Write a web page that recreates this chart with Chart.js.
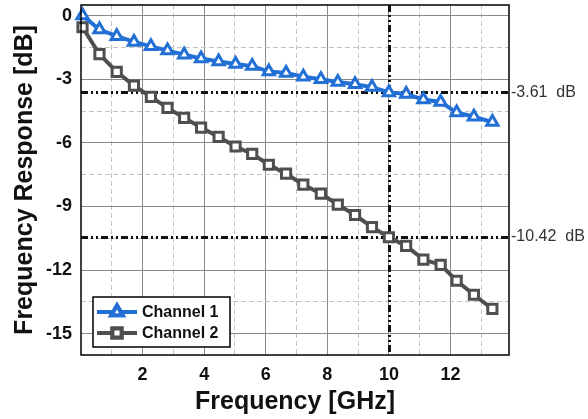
<!DOCTYPE html>
<html>
<head>
<meta charset="utf-8">
<script src="https://cdn.jsdelivr.net/npm/chart.js@4/dist/chart.umd.min.js"></script>
<style>
  html, body { margin: 0; padding: 0; background: #fff; }
  #wrap { width: 588px; height: 419px; }
</style>
</head>
<body>
<div id="wrap"><canvas id="resp" width="588" height="419"></canvas></div>
<script>
const freqGHz = [0.05, 0.6, 1.16, 1.72, 2.27, 2.81, 3.35, 3.9, 4.47, 5.02, 5.56, 6.1, 6.66,
                 7.22, 7.79, 8.34, 8.9, 9.45, 10.0, 10.56, 11.12, 11.68, 12.2, 12.76, 13.36];
const channel1 = [0, -0.66, -0.97, -1.24, -1.45, -1.65, -1.84, -2.02, -2.16, -2.28, -2.38, -2.64, -2.7,
                  -2.88, -3.0, -3.13, -3.24, -3.37, -3.62, -3.7, -3.96, -4.07, -4.57, -4.77, -5.02];
const channel2 = [-0.55, -1.82, -2.65, -3.3, -3.83, -4.35, -4.82, -5.28, -5.72, -6.17, -6.52, -7.03, -7.45,
                  -7.97, -8.39, -8.91, -9.4, -9.97, -10.45, -10.86, -11.5, -11.75, -12.5, -13.16, -13.83];
// grid positions; only the ones in the label lists get text
const xGrid = [1, 2, 3, 4, 5, 6, 7, 8, 9, 10, 11, 12, 13];
const xLabels = [2, 4, 6, 8, 10, 12];
const yGrid = [0, -1.5, -3, -4.5, -6, -7.5, -9, -10.5, -12, -13.5, -15];
const yLabels = [0, -3, -6, -9, -12, -15];
const markerLevels = [-3.61, -10.42];
const markerFreq = 10;

const BLUE = "#2270d6";
const GRAY = "#4f4f4f";
const MAJOR = "#8a8a8a";
const MINOR = "#c4c4c4";
const FONT = "'Liberation Sans', Arial, sans-serif";

const toPoints = ys => freqGHz.map((f, i) => ({ x: f, y: ys[i] }));

/* ---------- reference lines, frame, legend ---------- */
const markerPlugin = {
  id: "markers",
  beforeDatasetsDraw(chart) {
    const { ctx, chartArea: a, scales: { x, y } } = chart;
    ctx.save();
    ctx.strokeStyle = "#111";
    ctx.lineWidth = 3;
    ctx.setLineDash([7, 3, 2, 3, 2, 3]);
    markerLevels.forEach(v => {
      const py = Math.round(y.getPixelForValue(v)) + 0.5;
      ctx.beginPath(); ctx.moveTo(a.left, py); ctx.lineTo(a.right, py); ctx.stroke();
    });
    const px = Math.round(x.getPixelForValue(markerFreq)) + 0.5;
    ctx.beginPath(); ctx.moveTo(px, a.top); ctx.lineTo(px, a.bottom); ctx.stroke();
    ctx.restore();
  },
  afterDraw(chart) {
    const { ctx, chartArea: a, scales: { y } } = chart;
    ctx.save();
    ctx.strokeStyle = "#000";
    ctx.lineWidth = 1.5;
    ctx.strokeRect(a.left, a.top, a.right - a.left, a.bottom - a.top);

    ctx.fillStyle = "#333";
    ctx.font = "16px " + FONT;
    ctx.textBaseline = "middle";
    markerLevels.forEach(v => {
      ctx.fillText(v.toFixed(2) + "  dB", a.right + 2, y.getPixelForValue(v));
    });

    // legend sits inside the plot, bottom-left
    const bx = 93, by = 297, bw = 137, bh = 50;
    ctx.fillStyle = "#fff";
    ctx.fillRect(bx, by, bw, bh);
    ctx.strokeStyle = "#000";
    ctx.lineWidth = 1.5;
    ctx.strokeRect(bx, by, bw, bh);
    chart.data.datasets.forEach((ds, i) => {
      const ly = by + 15 + i * 21;
      ctx.strokeStyle = ds.borderColor;
      ctx.lineWidth = 4;
      ctx.setLineDash([]);
      ctx.beginPath(); ctx.moveTo(bx + 4, ly); ctx.lineTo(bx + 44, ly); ctx.stroke();
      Chart.helpers.drawPoint(ctx, {
        pointStyle: ds.pointStyle, radius: ds.pointRadius, borderWidth: ds.pointBorderWidth, rotation: 0
      }, bx + 24, ly);
      ctx.fillStyle = ds.pointBackgroundColor;
      ctx.fill();
      ctx.stroke();
      ctx.fillStyle = "#111";
      ctx.font = "bold 16px " + FONT;
      ctx.fillText(ds.label, bx + 49, ly + 1);
    });
    ctx.restore();
  }
};

/* ---------- chart ---------- */
const common = { showLine: true, borderWidth: 4, pointBorderWidth: 3, pointRadius: 6.5,
                 pointBackgroundColor: "#fff", clip: false, tension: 0 };
const tickFont = { family: FONT, size: 18, weight: "bold" };
const titleFont = { family: FONT, size: 25, weight: "bold" };

new Chart(document.getElementById("resp"), {
  type: "scatter",
  data: {
    datasets: [
      { ...common, label: "Channel 1", data: toPoints(channel1), borderColor: BLUE,
        pointBorderColor: BLUE, pointStyle: "triangle" },
      { ...common, label: "Channel 2", data: toPoints(channel2), borderColor: GRAY,
        pointBorderColor: GRAY, pointStyle: "rect" }
    ]
  },
  options: {
    responsive: false,
    animation: false,
    layout: { autoPadding: false, padding: { left: 0, right: 79, top: 5, bottom: 0 } },
    plugins: { legend: { display: false }, tooltip: { enabled: false } },
    scales: {
      x: {
        type: "linear", min: 0, max: 13.9,
        afterBuildTicks: s => { s.ticks = xGrid.map(v => ({ value: v })); },
        afterFit: s => { s.height = 64; s.paddingLeft = 0; s.paddingRight = 0; },
        grid: { drawTicks: false, lineWidth: 1,
                color: c => xLabels.includes(c.tick.value) ? MAJOR : MINOR },
        border: { display: false, dash: c => (c.tick && !xLabels.includes(c.tick.value)) ? [5, 3] : [] },
        ticks: { padding: 9, color: "#111", autoSkip: false, maxRotation: 0, font: tickFont,
                 callback: v => xLabels.includes(v) ? String(v) : "" },
        title: { display: true, text: "Frequency [GHz]", color: "#111", font: titleFont,
                 padding: { top: 0, bottom: 2 } }
      },
      y: {
        type: "linear", min: -16, max: 0.5,
        afterBuildTicks: s => { s.ticks = yGrid.map(v => ({ value: v })); },
        afterFit: s => { s.width = 81; s.paddingTop = 0; s.paddingBottom = 0; },
        grid: { drawTicks: false, lineWidth: 1,
                color: c => yLabels.includes(c.tick.value) ? MAJOR : MINOR },
        border: { display: false, dash: c => (c.tick && !yLabels.includes(c.tick.value)) ? [5, 3] : [] },
        ticks: { padding: 9, color: "#111", autoSkip: false, font: tickFont,
                 callback: v => yLabels.includes(v) ? String(v) : "" },
        title: { display: true, text: "Frequency Response [dB]", color: "#111", font: titleFont,
                 padding: { top: 10, bottom: 0 } }
      }
    }
  },
  plugins: [markerPlugin]
});
</script>
</body>
</html>
